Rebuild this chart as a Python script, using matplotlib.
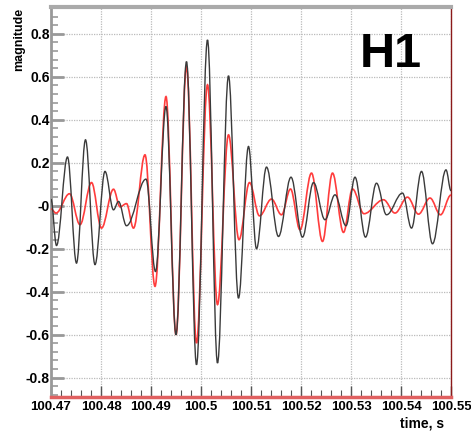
import matplotlib
matplotlib.use('Agg')
import matplotlib.pyplot as plt
from matplotlib.path import Path
from matplotlib.patches import PathPatch
from matplotlib.ticker import FixedLocator, FixedFormatter, MultipleLocator

# ============================================================
# DATA (extrema)
# ============================================================
black_t = [100.4700, 100.4711, 100.4733, 100.4751, 100.4769, 100.4788, 100.4808,
           100.4825, 100.4835, 100.4851, 100.4890, 100.4909, 100.4930, 100.4950,
           100.4971, 100.4991, 100.5013, 100.5033, 100.5055, 100.5075, 100.5095,
           100.5111, 100.5131, 100.5155, 100.5180, 100.5203, 100.5225, 100.5248,
           100.5268, 100.5290, 100.5308, 100.5329, 100.5351, 100.5371, 100.5403,
           100.5421, 100.5441, 100.5463, 100.5490, 100.5500]
black_v = [0.03, -0.185, 0.227, -0.267, 0.307, -0.274, 0.16,
           -0.019, 0.02, -0.093, 0.124, -0.306, 0.462, -0.60,
           0.671, -0.74, 0.772, -0.732, 0.605, -0.43, 0.276,
           -0.20, 0.18, -0.143, 0.133, -0.146, 0.108, -0.065,
           0.051, -0.093, 0.133, -0.146, 0.105, -0.042, 0.059,
           -0.104, 0.16, -0.177, 0.167, 0.07]

red_t = [100.4700, 100.4710, 100.4737, 100.4758, 100.4781, 100.4801, 100.4825,
         100.4838, 100.4851, 100.4865, 100.4888, 100.4908, 100.4930, 100.4950,
         100.4971, 100.4991, 100.5013, 100.5033, 100.5055, 100.5076, 100.5097,
         100.5117, 100.5141, 100.5161, 100.5179, 100.5198, 100.5221, 100.5243,
         100.5263, 100.5285, 100.5303, 100.5326, 100.5365, 100.5388, 100.5413,
         100.5435, 100.5458, 100.5479, 100.5500]
red_v = [-0.015, -0.034, 0.056, -0.088, 0.108, -0.104, 0.077,
         -0.005, 0.01, -0.104, 0.237, -0.375, 0.508, -0.60,
         0.648, -0.639, 0.563, -0.46, 0.33, -0.158, 0.108,
         -0.047, 0.031, -0.042, 0.078, -0.112, 0.152, -0.166,
         0.152, -0.124, 0.078, -0.037, 0.028, -0.034, 0.04,
         -0.039, 0.036, -0.042, 0.05]

x_ticks = [100.47, 100.48, 100.49, 100.50, 100.51, 100.52, 100.53, 100.54, 100.55]
x_labels = ['100.47', '100.48', '100.49', '100.5', '100.51', '100.52',
            '100.53', '100.54', '100.55']
y_ticks = [-0.8, -0.6, -0.4, -0.2, 0.0, 0.2, 0.4, 0.6, 0.8]
y_labels = ['-0.8', '-0.6', '-0.4', '-0.2', '-0', '0.2', '0.4', '0.6', '0.8']

FONT = ['Liberation Sans', 'DejaVu Sans']


def wave_path(ts, vs, k=0.364):
    # smooth path through the extrema (cubic Bezier, flat at each extremum)
    verts = [(ts[0], vs[0])]
    codes = [Path.MOVETO]
    for i in range(len(ts) - 1):
        dt = ts[i + 1] - ts[i]
        verts += [(ts[i] + k * dt, vs[i]), (ts[i + 1] - k * dt, vs[i + 1]),
                  (ts[i + 1], vs[i + 1])]
        codes += [Path.CURVE4] * 3
    return Path(verts, codes)


# ============================================================
# FIGURE
# ============================================================
fig = plt.figure(figsize=(4.71, 4.38), dpi=100)
ax = fig.add_axes([51 / 471, 1 - 397 / 438, 400 / 471, 390 / 438])

ax.add_patch(PathPatch(wave_path(red_t, red_v), fill=False,
                       edgecolor='#ff3c3c', linewidth=1.2, zorder=3))
ax.add_patch(PathPatch(wave_path(black_t, black_v), fill=False,
                       edgecolor='#3a3a3a', linewidth=1.0, zorder=4))

ax.set_xlim(100.47, 100.55)
ax.set_ylim(-0.89, 0.925)

ax.xaxis.set_major_locator(FixedLocator(x_ticks))
ax.xaxis.set_major_formatter(FixedFormatter(x_labels))
ax.xaxis.set_minor_locator(MultipleLocator(0.002))
ax.yaxis.set_major_locator(FixedLocator(y_ticks))
ax.yaxis.set_major_formatter(FixedFormatter(y_labels))
ax.yaxis.set_minor_locator(MultipleLocator(0.04))

ax.tick_params(axis='both', which='both', direction='in', top=False, right=False)
ax.tick_params(axis='y', which='major', length=9, width=2, color='#999999', pad=1)
ax.tick_params(axis='y', which='minor', length=5, width=1.2, color='#999999')
ax.tick_params(axis='x', which='major', length=8, width=1.0, color='#555555', pad=3)
ax.tick_params(axis='x', which='minor', length=5, width=0.8, color='#555555')

for lab in ax.get_xticklabels():
    lab.set_fontfamily(FONT)
    lab.set_fontweight('bold')
    lab.set_fontsize(9.5)
for lab in ax.get_yticklabels():
    lab.set_fontfamily(FONT)
    lab.set_fontweight('bold')
    lab.set_fontsize(10)

ax.grid(True, which='major', color='#bbbbbb', linestyle=(0, (1, 1)), linewidth=0.9)
ax.set_axisbelow(True)

ax.spines['left'].set_color('#999999')
ax.spines['left'].set_linewidth(2)
ax.spines['top'].set_color('#aaaaaa')
ax.spines['top'].set_linewidth(3)
ax.spines['right'].set_color('#8b1a1a')
ax.spines['right'].set_linewidth(1)
ax.spines['bottom'].set_color('#e06060')
ax.spines['bottom'].set_linewidth(2.5)

ax.text(0.9275, 0.8465, 'H1', transform=ax.transAxes, ha='right', va='baseline',
        fontsize=35, fontweight='bold', family=FONT, color='black', zorder=6)

fig.text(19 / 471, 1 - 8 / 438, 'magnitude', rotation=90, ha='center', va='top',
         fontsize=9, fontweight='bold', family=FONT)
fig.text(444 / 471, 1 - 430 / 438, 'time, s', ha='right', va='bottom',
         fontsize=10, fontweight='bold', family=FONT)

plt.savefig('out.png', dpi=100)
